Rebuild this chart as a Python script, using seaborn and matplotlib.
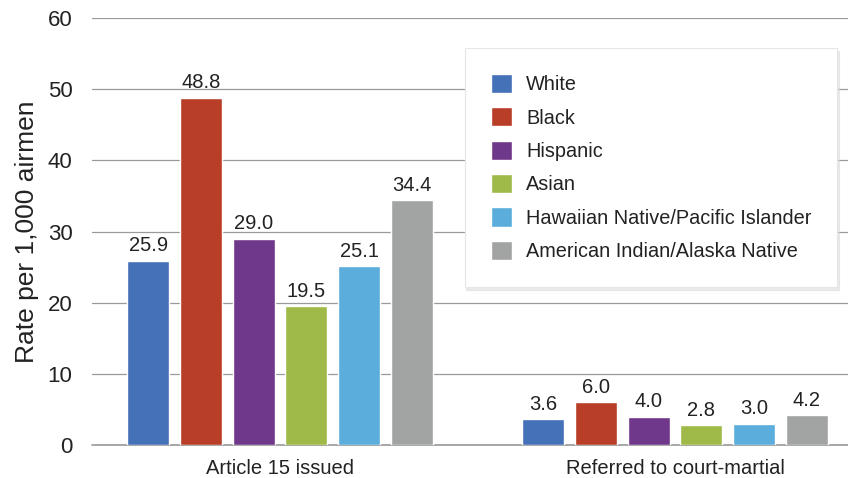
import pandas as pd
import numpy as np
import seaborn as sns
import matplotlib.pyplot as plt

sns.set_style('white')
plt.rcParams['font.family'] = ['Liberation Sans', 'DejaVu Sans']

# dados
groups = ['Article 15 issued', 'Referred to court-martial']
races = ['White', 'Black', 'Hispanic', 'Asian',
         'Hawaiian Native/Pacific Islander', 'American Indian/Alaska Native']
article15 = [25.9, 48.8, 29.0, 19.5, 25.1, 34.4]
court_martial = [3.6, 6.0, 4.0, 2.8, 3.0, 4.2]
colors = ['#4571B9', '#B83E28', '#70388A', '#9FBA48', '#5BAEDC', '#A2A3A3']

df = pd.DataFrame({
    'group': [groups[0]] * len(races) + [groups[1]] * len(races),
    'race': races + races,
    'rate': article15 + court_martial,
})

fig = plt.figure(figsize=(8.48, 4.78), dpi=100)
ax = fig.add_axes([0.1085, 0.069, 0.8915, 0.893])

sns.barplot(data=df, x='group', y='rate', hue='race', hue_order=races,
            palette=colors, width=0.8, gap=0.2, saturation=1, ax=ax)

for c in ax.containers:
    ax.bar_label(c, fmt='%.1f', padding=4, fontsize=14.5, color='#222222')

ax.set_ylim(0, 60)
ax.set_xlim(-0.476, 1.438)
ax.set_yticks(range(0, 61, 10))
ax.yaxis.grid(True, color='#9a9a9a', linewidth=0.9)
ax.axhline(0, color='#9a9a9a', linewidth=1.2, clip_on=False, zorder=0.5)
ax.set_axisbelow(True)
for s in ax.spines.values():
    s.set_visible(False)
ax.tick_params(axis='y', length=0, pad=14, labelsize=16, colors='#222222')
ax.tick_params(axis='x', length=0, pad=10, labelsize=14.5, colors='#222222')
ax.set_xlabel('')
ax.set_ylabel('Rate per 1,000 airmen', fontsize=19, color='#222222', labelpad=6)

leg = ax.legend(loc='upper left', bbox_to_anchor=(0.493, 0.93), fontsize=14.3,
                frameon=True, fancybox=False,
                shadow={'color': '#d8d8d8', 'ox': 1, 'oy': -2},
                handlelength=1.1, handleheight=1.1, handletextpad=0.7,
                labelspacing=0.66, borderpad=1.3, borderaxespad=0)
leg.get_frame().set_edgecolor('#e6e6e6')
leg.get_frame().set_linewidth(0.8)
for t in leg.get_texts():
    t.set_color('#222222')

plt.savefig('out.png', dpi=100)
